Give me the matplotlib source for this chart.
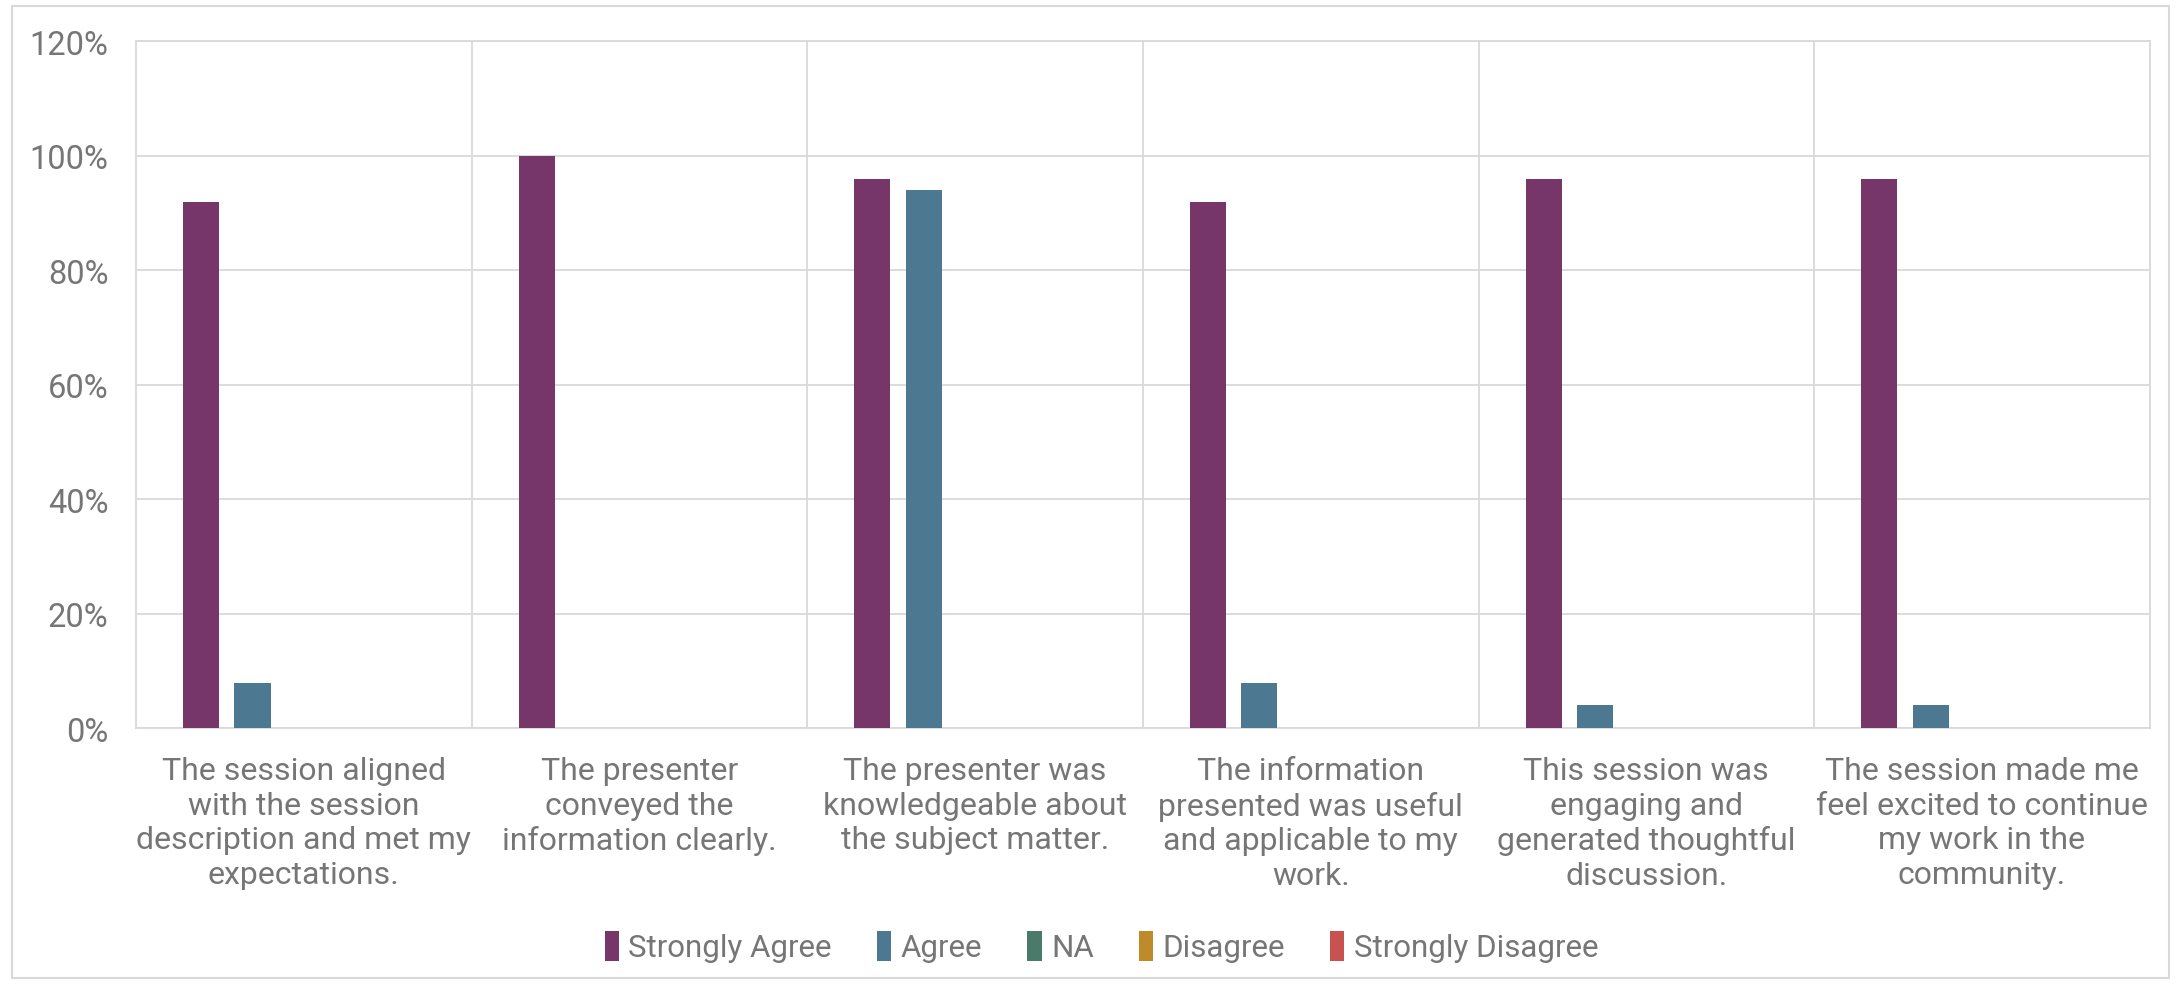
import numpy as np
import matplotlib.pyplot as plt
from matplotlib.patches import Rectangle

plt.rcParams['font.family'] = ['Roboto', 'DejaVu Sans']

questions = [
    'The session aligned\nwith the session\ndescription and met my\nexpectations.',
    'The presenter\nconveyed the\ninformation clearly.',
    'The presenter was\nknowledgeable about\nthe subject matter.',
    'The information\npresented was useful\nand applicable to my\nwork.',
    'This session was\nengaging and\ngenerated thoughtful\ndiscussion.',
    'The session made me\nfeel excited to continue\nmy work in the\ncommunity.',
]
series_names = ['Strongly Agree', 'Agree', 'NA', 'Disagree', 'Strongly Disagree']
strongly_agree = [92, 100, 96, 92, 96, 96]
agree = [8, 0, 94, 8, 4, 4]
na = [0, 0, 0, 0, 0, 0]
disagree = [0, 0, 0, 0, 0, 0]
strongly_disagree = [0, 0, 0, 0, 0, 0]
colors = ['#76366A', '#4C7891', '#4A7A6A', '#BF8B2A', '#C85250']

values = [strongly_agree, agree, na, disagree, strongly_disagree]
grid_c = '#D9D9D9'
text_c = '#767676'

fig = plt.figure(figsize=(21.77, 9.87), dpi=100)
ax = fig.add_axes([0.0625, 0.261, 0.925, 0.696])

x = np.arange(len(questions))
step = 0.153
width = 0.1075
for i, (name, vals) in enumerate(zip(series_names, values)):
    ax.bar(x + (i - 2) * step, vals, width, color=colors[i], label=name, zorder=3)

ax.set_xlim(-0.5, len(questions) - 0.5)
ax.set_ylim(0, 120)
ax.set_yticks(range(0, 121, 20))
ax.set_yticklabels([f'{v}%' for v in range(0, 121, 20)], fontsize=23.5, color=text_c)
ax.yaxis.grid(True, color=grid_c, lw=1.3, zorder=0)
for b in x[:-1] + 0.5:
    ax.axvline(b, color=grid_c, lw=1.3, zorder=0)
ax.set_xticks(x)
ax.set_xticklabels(questions, fontsize=23, color=text_c, linespacing=1.24)
ax.tick_params(axis='both', length=0)
ax.tick_params(axis='y', pad=20)
ax.tick_params(axis='x', pad=20)
for s in ax.spines.values():
    s.set_color(grid_c)
    s.set_linewidth(1.3)

leg = fig.legend(loc='center', bbox_to_anchor=(0.506, 0.04), ncol=5, frameon=False,
                 fontsize=22.5, handlelength=0.45, handleheight=1.1, handletextpad=0.3,
                 columnspacing=1.45)
for t in leg.get_texts():
    t.set_color(text_c)

fig.patches.append(Rectangle((0.0055, 0.008), 0.991, 0.985, transform=fig.transFigure,
                             fill=False, edgecolor=grid_c, lw=1.5))

fig.savefig('out.png', dpi=100)
